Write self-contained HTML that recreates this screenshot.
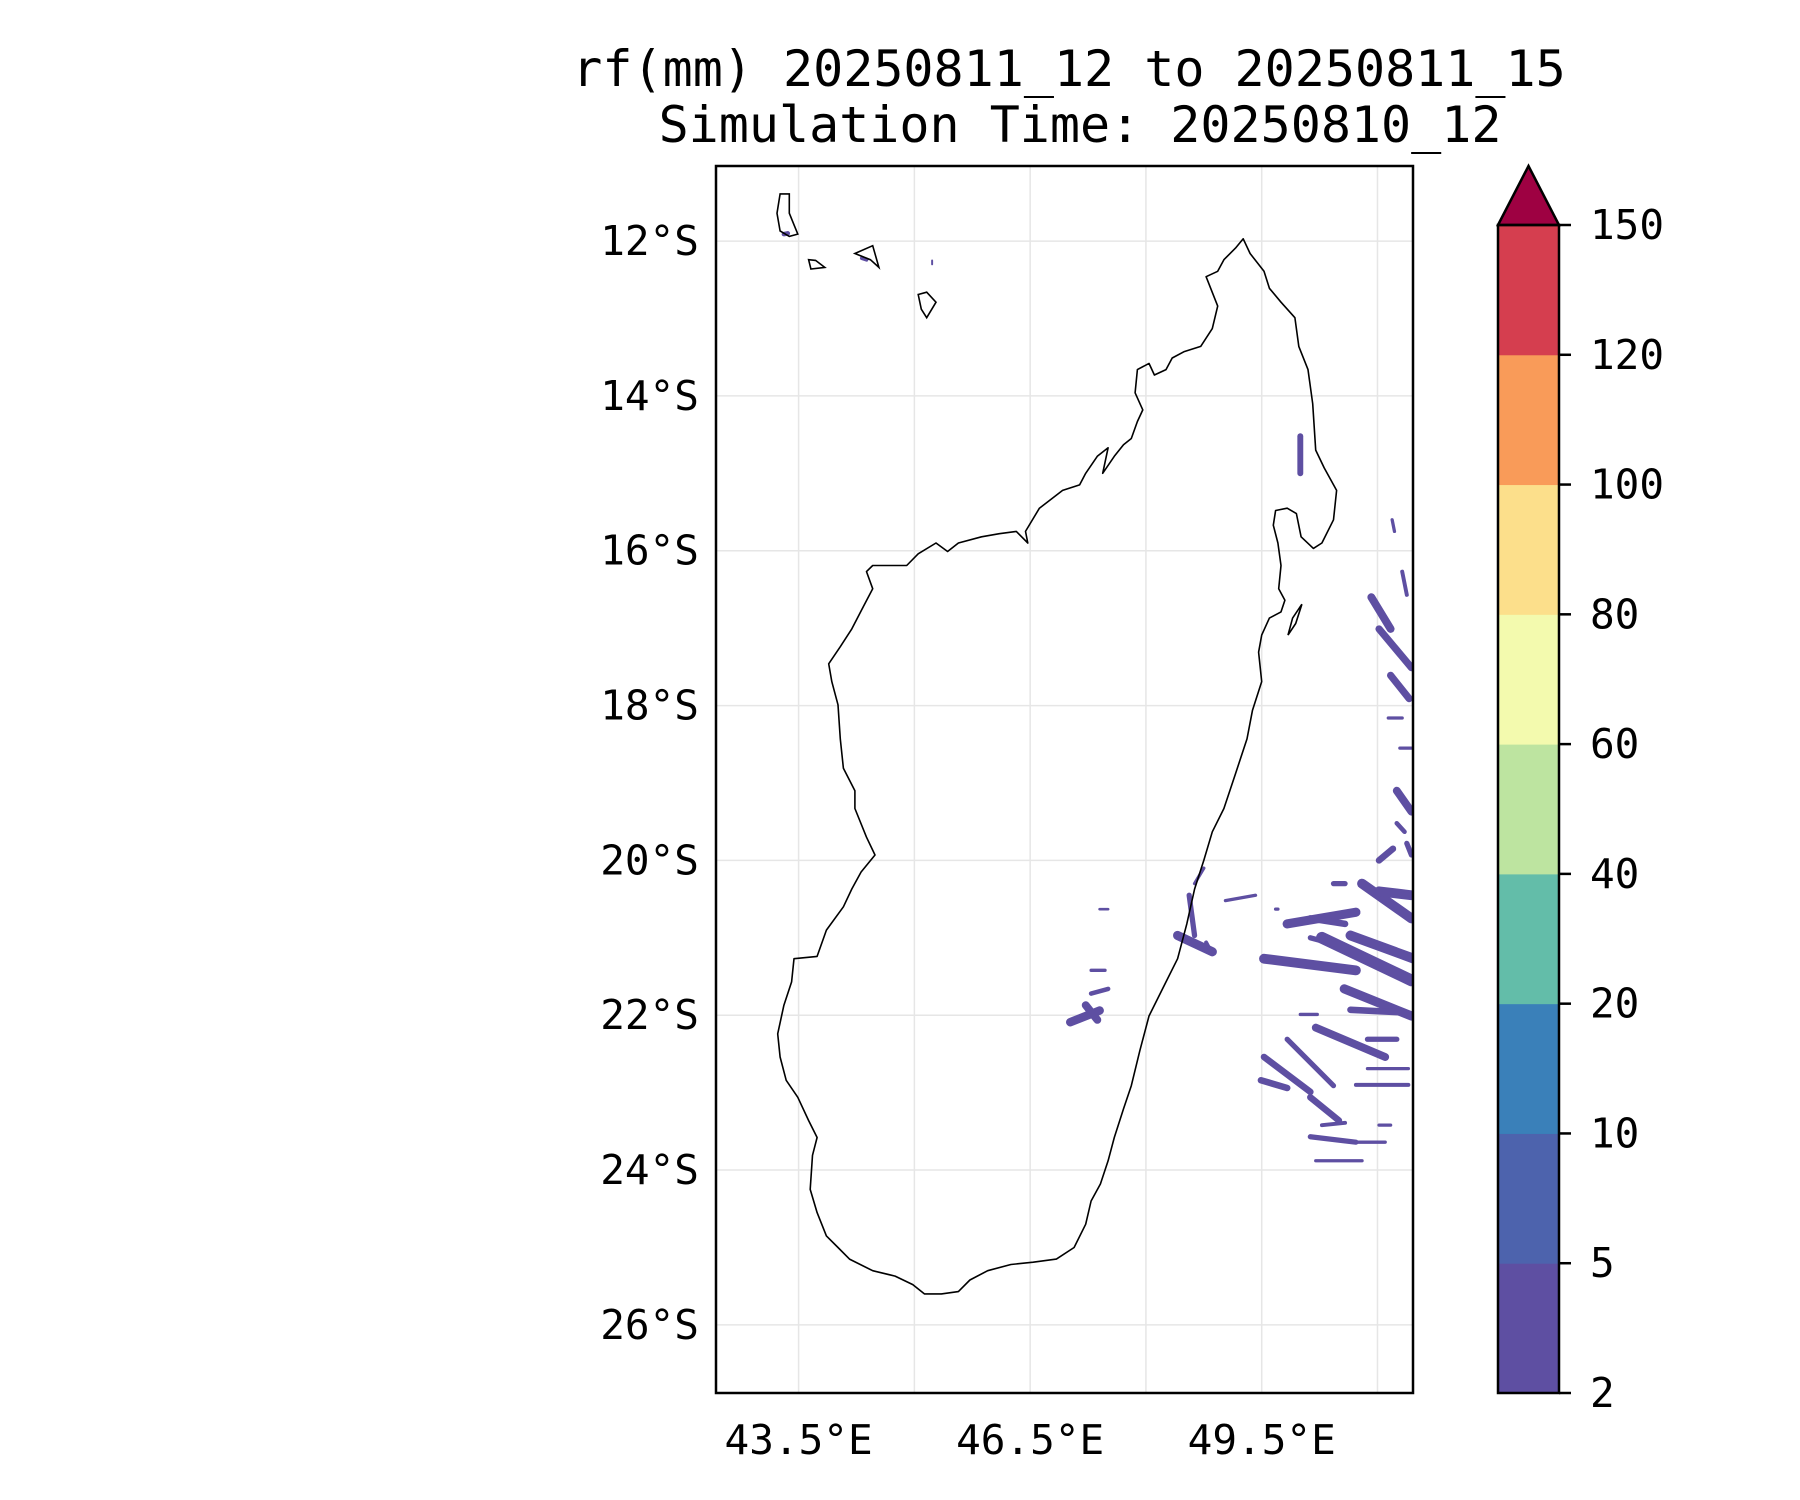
<!DOCTYPE html>
<html><head><meta charset="utf-8"><style>
html,body{margin:0;padding:0;background:#fff}
svg{display:block}
text{font-family:"DejaVu Sans Mono","Liberation Mono",monospace;fill:#000}
</style></head><body>
<svg id="c" width="1800" height="1500" viewBox="0 0 1800 1500" xmlns="http://www.w3.org/2000/svg"></svg>
<script>
const lonTicks=[43.5,46.5,49.5];
const lonGrid=[45,48,51];
const latTicks=[12,14,16,18,20,22,24,26];
const cbLevels=[2,5,10,20,40,60,80,100,120,150];
const cbColors=["#5e4fa2","#4d63ad","#3a80b9","#63bda9","#bde4a0","#f3faae","#fcdf8b","#f99b59","#d53e4f"];
const madagascar=[[49.26,11.97],[49.35,12.16],[49.53,12.39],[49.60,12.61],[49.75,12.79],[49.93,12.99],[49.98,13.36],[50.10,13.66],[50.16,14.10],[50.20,14.70],[50.31,14.93],[50.47,15.22],[50.43,15.60],[50.28,15.90],[50.17,15.97],[50.01,15.82],[49.95,15.52],[49.83,15.45],[49.68,15.48],[49.65,15.67],[49.71,15.90],[49.75,16.19],[49.72,16.49],[49.80,16.64],[49.75,16.79],[49.60,16.87],[49.50,17.09],[49.46,17.31],[49.50,17.69],[49.38,18.06],[49.31,18.43],[49.16,18.88],[49.01,19.33],[48.86,19.63],[48.75,20.00],[48.63,20.37],[48.53,20.82],[48.41,21.27],[48.26,21.57],[48.04,22.01],[47.92,22.46],[47.81,22.91],[47.71,23.21],[47.59,23.58],[47.51,23.88],[47.41,24.18],[47.29,24.40],[47.22,24.70],[47.07,25.00],[46.84,25.15],[46.54,25.19],[46.25,25.22],[45.95,25.30],[45.72,25.42],[45.57,25.57],[45.35,25.60],[45.13,25.60],[44.98,25.48],[44.75,25.37],[44.46,25.30],[44.16,25.15],[44.01,25.00],[43.86,24.85],[43.74,24.55],[43.65,24.25],[43.68,23.81],[43.74,23.58],[43.63,23.36],[43.49,23.06],[43.34,22.84],[43.26,22.54],[43.23,22.24],[43.31,21.87],[43.41,21.57],[43.44,21.27],[43.74,21.24],[43.86,20.90],[44.08,20.60],[44.19,20.37],[44.31,20.15],[44.49,19.93],[44.38,19.70],[44.23,19.33],[44.23,19.10],[44.08,18.81],[44.04,18.43],[44.01,17.99],[43.93,17.69],[43.89,17.46],[44.04,17.24],[44.19,17.01],[44.34,16.72],[44.46,16.49],[44.38,16.27],[44.46,16.19],[44.90,16.19],[45.05,16.04],[45.28,15.90],[45.43,16.01],[45.57,15.90],[45.87,15.82],[46.10,15.78],[46.32,15.75],[46.47,15.90],[46.44,15.75],[46.62,15.45],[46.92,15.22],[47.14,15.15],[47.22,15.00],[47.37,14.78],[47.51,14.67],[47.44,15.00],[47.59,14.78],[47.71,14.63],[47.81,14.55],[47.89,14.33],[47.96,14.18],[47.86,13.96],[47.89,13.66],[48.04,13.58],[48.11,13.73],[48.26,13.66],[48.34,13.51],[48.49,13.43],[48.71,13.36],[48.86,13.13],[48.93,12.84],[48.78,12.46],[48.93,12.39],[49.01,12.24],[49.16,12.09]];
const islands=[
 [[43.26,11.39],[43.38,11.39],[43.38,11.64],[43.44,11.79],[43.49,11.91],[43.38,11.94],[43.26,11.87],[43.22,11.64]],
 [[43.63,12.24],[43.72,12.25],[43.84,12.34],[43.66,12.36]],
 [[44.23,12.16],[44.46,12.06],[44.54,12.34],[44.43,12.24]],
 [[45.05,12.69],[45.16,12.66],[45.28,12.79],[45.16,12.99],[45.09,12.88]],
 [[50.02,16.69],[49.94,16.94],[49.84,17.09],[49.90,16.87]]
];
const rainStreaks=[
 [50.0,14.52,50.0,15.0,0.09],[50.92,16.60,51.17,17.01,0.12],[51.02,17.01,51.44,17.51,0.11],[51.17,17.61,51.41,17.91,0.11],
 [51.32,16.27,51.38,16.57,0.06],[51.19,15.60,51.22,15.75,0.05],[51.14,18.16,51.32,18.16,0.05],[51.29,18.55,51.44,18.55,0.05],
 [51.25,19.10,51.44,19.37,0.12],[51.02,20.0,51.20,19.85,0.1],[51.38,19.78,51.44,19.93,0.08],[51.25,19.52,51.35,19.63,0.07],
 [50.80,20.30,51.44,20.75,0.15],[51.02,20.40,51.44,20.45,0.15],[50.43,20.30,50.58,20.30,0.08],[49.83,20.82,50.72,20.67,0.14],
 [50.13,20.75,50.58,20.82,0.1],[50.28,21.0,51.44,21.55,0.18],[49.53,21.27,50.72,21.42,0.15],[50.65,20.97,51.47,21.27,0.15],
 [50.13,21.0,50.43,21.08,0.08],[50.57,21.66,51.44,22.01,0.14],[50.65,21.93,51.25,21.96,0.1],[50.0,21.99,50.22,21.99,0.05],
 [50.20,22.16,51.10,22.54,0.12],[50.87,22.31,51.25,22.31,0.08],[49.53,22.54,50.13,22.99,0.1],[49.83,22.31,50.43,22.91,0.08],
 [49.49,22.84,49.83,22.94,0.1],[50.72,22.9,51.40,22.9,0.06],[50.87,22.69,51.40,22.69,0.05],[50.13,23.06,50.50,23.36,0.1],
 [50.13,23.57,50.72,23.64,0.08],[50.28,23.42,50.58,23.39,0.06],[50.72,23.64,51.10,23.64,0.05],[50.20,23.88,50.80,23.88,0.05],
 [51.02,23.42,51.17,23.42,0.05],[48.41,20.97,48.86,21.18,0.14],[48.56,20.45,48.63,20.97,0.08],[48.63,20.30,48.75,20.10,0.05],
 [48.78,21.06,48.86,21.21,0.06],[47.02,22.09,47.40,21.94,0.13],[47.22,21.87,47.37,22.06,0.12],[47.29,21.72,47.51,21.66,0.07],
 [47.29,21.42,47.47,21.42,0.05],[47.40,20.63,47.51,20.63,0.04],[49.03,20.52,49.42,20.45,0.05],[49.68,20.63,49.71,20.63,0.05],
 [43.31,11.91,43.36,11.90,0.07],[44.32,12.22,44.38,12.24,0.06],[45.23,12.25,45.23,12.30,0.03]
];
const L={x0:716,x1:1413,y0:166,y1:1393,lon0:42.43,lon1:51.46,lat0:11.03,lat1:26.88};
const ns="http://www.w3.org/2000/svg";
const svg=document.getElementById('c');
const px=lon=>L.x0+(lon-L.lon0)/(L.lon1-L.lon0)*(L.x1-L.x0);
const py=lat=>L.y0+(lat-L.lat0)/(L.lat1-L.lat0)*(L.y1-L.y0);
const degPx=(L.x1-L.x0)/(L.lon1-L.lon0);
function mk(tag,attrs,parent){const e=document.createElementNS(ns,tag);for(const k in attrs)e.setAttribute(k,attrs[k]);(parent||svg).appendChild(e);return e;}
function txt(s,x,y,anchor,size){const t=mk('text',{x:x,y:y,'text-anchor':anchor,'dominant-baseline':'central','font-size':size});t.textContent=s;return t;}

let t=txt('rf(mm) 20250811_12 to 20250811_15',1069,69,'middle',50);


t=txt('Simulation Time: 20250810_12',1080,125,'middle',50);



const clip=mk('clipPath',{id:'ax'});mk('rect',{x:L.x0,y:L.y0,width:L.x1-L.x0,height:L.y1-L.y0},clip);
const plot=mk('g',{'clip-path':'url(#ax)'});



lonTicks.concat(lonGrid).forEach(lon=>{const g=mk('line',{x1:px(lon),x2:px(lon),y1:L.y0,y2:L.y1,stroke:'#e6e6e6','stroke-width':1.5},plot);

});
latTicks.forEach(lat=>{const g=mk('line',{x1:L.x0,x2:L.x1,y1:py(lat),y2:py(lat),stroke:'#e6e6e6','stroke-width':1.5},plot);

});

rainStreaks.forEach(s=>{const e=mk('line',{x1:px(s[0]),y1:py(s[1]),x2:px(s[2]),y2:py(s[3]),stroke:cbColors[0],'stroke-width':s[4]*degPx*0.85,'stroke-linecap':'round'},plot);

});

const pts=a=>a.map(p=>px(p[0]).toFixed(1)+','+py(p[1]).toFixed(1)).join(' ');
let m=mk('polygon',{points:pts(madagascar),fill:'none',stroke:'#000','stroke-width':1.6,'stroke-linejoin':'round'},plot);


islands.forEach(isl=>{const e=mk('polygon',{points:pts(isl),fill:'none',stroke:'#000','stroke-width':1.6},plot);

});

const frame=mk('rect',{x:L.x0,y:L.y0,width:L.x1-L.x0,height:L.y1-L.y0,fill:'none',stroke:'#000','stroke-width':2.5});



lonTicks.forEach(lon=>{const e=txt(lon.toFixed(1)+'°E',px(lon),1440,'middle',41);

});
latTicks.forEach(lat=>{const e=txt(lat+'°S',699,py(lat),'end',41);

});

const cb={x:1498,w:61,top:225,bottom:1393,tip:166};
const step=(cb.bottom-cb.top)/(cbLevels.length-1);
cbColors.forEach((c,i)=>{const r=mk('rect',{x:cb.x,y:cb.bottom-(i+1)*step,width:cb.w,height:step+0.5,fill:c});

});
const tri=mk('polygon',{points:`${cb.x},${cb.top} ${cb.x+cb.w/2},${cb.tip} ${cb.x+cb.w},${cb.top}`,fill:'#9e0142',stroke:'#000','stroke-width':2.5});


const cbf=mk('rect',{x:cb.x,y:cb.top,width:cb.w,height:cb.bottom-cb.top,fill:'none',stroke:'#000','stroke-width':2.5});


cbLevels.forEach((v,i)=>{const y=cb.bottom-i*step;
const tk=mk('line',{x1:cb.x+cb.w,x2:cb.x+cb.w+12,y1:y,y2:y,stroke:'#000','stroke-width':2.5});


const e=txt(String(v),1590,y,'start',41);

});
</script>
</body></html>
